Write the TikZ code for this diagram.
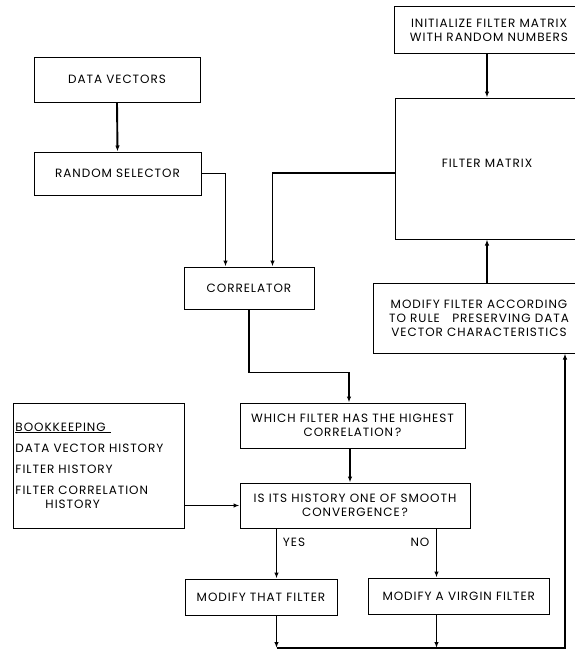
\documentclass[tikz,border=0pt]{standalone}
\usepackage{fontspec}
\usepackage{tikz}
\usetikzlibrary{arrows.meta,calc,positioning}
\newfontfamily\chartfont[LetterSpace=8]{Poppins}
\tikzstyle{arrow} = [draw, -{Latex[length=6pt,width=4.5pt]}, line width=1.9pt]
\tikzstyle{box} = [rectangle, draw=black, line width=1pt, align=center, inner sep=0pt,
                   font={\chartfont\fontsize{12}{14}\selectfont}]
\tikzstyle{tag} = [inner sep=0pt, font={\chartfont\fontsize{12}{14}\selectfont}]

\begin{document}
\begin{tikzpicture}[x=1pt, y=-1pt]
      \clip (0,0) rectangle (575,649);
      \node [box, minimum width=190, minimum height=47] at (489,30) (init)
        {INITIALIZE FILTER MATRIX\\
          WITH RANDOM NUMBERS};
      \node [box, minimum width=166, minimum height=45] at (117,79.5) (datavec)
        {DATA VECTORS};
      \node [box, minimum width=167, minimum height=43] at (117.5,173.5) (randsel)
        {RANDOM SELECTOR};
      \node [box, minimum width=184, minimum height=141] at (487,168.5) (filtmat)
        {FILTER MATRIX\\[-3pt]};
      \node [box, minimum width=212, minimum height=70] at (479,318) (modify)
        {MODIFY FILTER ACCORDING\\
          TO RULE \ \ PRESERVING DATA\\
          VECTOR CHARACTERISTICS};
      \node [box, minimum width=130, minimum height=42] at (249,288) (correl)
        {CORRELATOR};
      \node [box, minimum width=225, minimum height=45] at (352.5,425.5) (which)
        {WHICH FILTER HAS THE HIGHEST\\
          CORRELATION\,?};
      \node [box, minimum width=230, minimum height=45] at (355,505.5) (history)
        {IS ITS HISTORY ONE OF SMOOTH\\
          CONVERGENCE\,?};
      \node [box, align=left, text width=166.5, inner xsep=2.5, minimum height=125,
             font={\chartfont\fontsize{12}{21}\selectfont}] at (98.75,465.5) (books)
        {\underline{BOOKKEEPING\hspace{5pt}}\\
          DATA VECTOR HISTORY\\
          FILTER HISTORY\\
          FILTER CORRELATION\\[-7pt]
          \hspace*{30pt}HISTORY\\[-4pt]};
      \node [box, minimum width=152, minimum height=36] at (261,597) (mthat)
        {MODIFY THAT FILTER};
      \node [box, minimum width=180.5, minimum height=36] at (458.75,596) (mvirgin)
        {MODIFY A VIRGIN FILTER};
      \node [tag] at (294,542) (yeslbl) {YES};
      \node [tag] at (420,542) (nolbl) {NO};
      \coordinate (yes) at (276.5,0);
      \coordinate (no) at (436.5,0);
      \coordinate (ret) at (565,648);
      \path [arrow] let \p0=(filtmat.north), \p1=(init.south) in
        (\x0,\y1) -- (\x0,\y0);
      \path [arrow] (datavec.south) -- (randsel.north);
      \path [arrow] (randsel.east) -| ($(correl.north)-(23.5,0)$);
      \path [arrow] ($(filtmat.west)+(0,4.5)$) -| ($(correl.north)+(23.5,0)$);
      \path [arrow] let \p0=(filtmat.south), \p1=(modify.north) in
        (\x0,\y1) -- (\x0,\y0);
      \path [arrow] (correl.south) |- ($(which.north)+(-3.5,-30)$) -- ($(which.north)-(3.5,0)$);
      \path [arrow] let \p0=($(which.south)-(2.5,0)$), \p1=(history.north) in
        (\x0,\y0) -- (\x0,\y1);
      \path [arrow] (books.east |- history.west) -- (history.west);
      \path [arrow] (history.south -| yes) -- (mthat.north -| yes);
      \path [arrow] (history.south -| no) -- (mvirgin.north -| no);
      \path [arrow] (mthat.south -| yes) -- (yes |- ret);
      \path [arrow] (mvirgin.south -| no) -- (no |- ret);
      \path [arrow] (yes |- ret) -- (ret) -- (modify.south -| ret);
    \end{tikzpicture}
\end{document}
